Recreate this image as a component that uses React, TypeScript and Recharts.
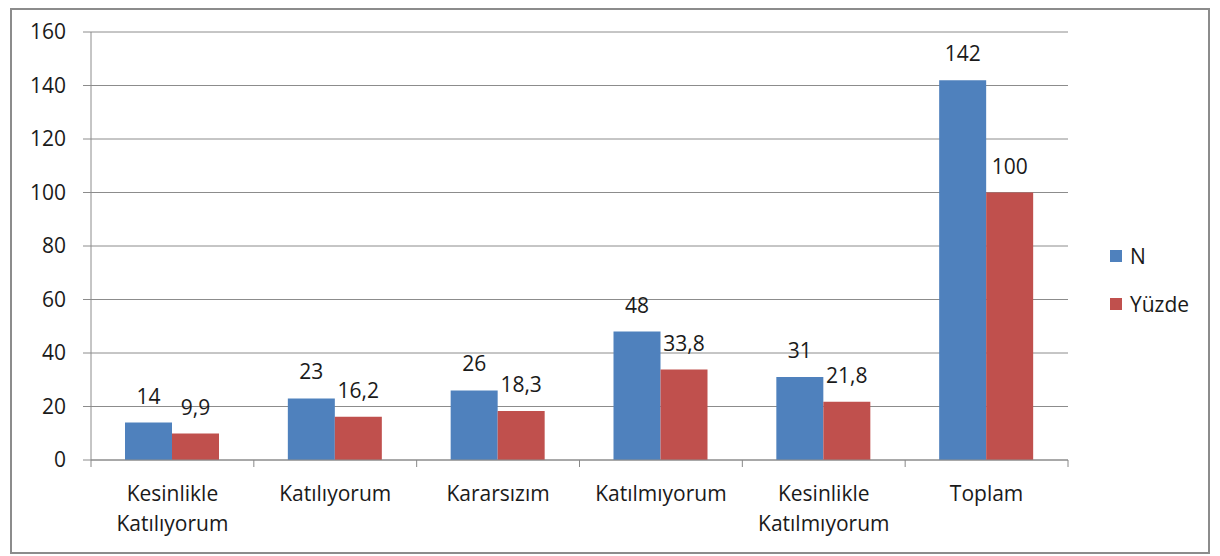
import React from "react"
import { BarChart, Bar, XAxis, YAxis, CartesianGrid, LabelList } from "recharts"

const categories = [
  "Kesinlikle Katılıyorum",
  "Katılıyorum",
  "Kararsızım",
  "Katılmıyorum",
  "Kesinlikle Katılmıyorum",
  "Toplam",
]
const nValues = [14, 23, 26, 48, 31, 142]
const yuzdeValues = [9.9, 16.2, 18.3, 33.8, 21.8, 100]
const yTicks = [0, 20, 40, 60, 80, 100, 120, 140, 160]

const BLUE = "#4f81bd"
const RED = "#c0504d"
const FONT = "'Open Sans', sans-serif"
const FS = 21
const TEXT = "#1a1a1a"

const data = categories.map((name, i) => ({ name, n: nValues[i], yuzde: yuzdeValues[i] }))

const CHART_W = 1196
const CHART_H = 542
const MARGIN = { top: 22, right: 140, left: 0, bottom: 0 }
const Y_WIDTH = 79
const BAND = (CHART_W - MARGIN.right - MARGIN.left - Y_WIDTH) / categories.length

const fmt = (v: any) => String(v).replace(".", ",")

function CategoryTick(props: any) {
  const { x, y, payload, index } = props
  const words = String(payload.value).split(" ")
  const left = x - BAND / 2
  return (
    <g>
      <line x1={left} y1={y - 8} x2={left} y2={y - 1} stroke="#888" />
      {index === categories.length - 1 && (
        <line x1={x + BAND / 2} y1={y - 8} x2={x + BAND / 2} y2={y - 1} stroke="#888" />
      )}
      <text x={x} y={y + 33} textAnchor="middle" fill={TEXT} fontSize={FS} fontFamily={FONT}>
        {words.map((w, i) => (
          <tspan key={i} x={x} dy={i === 0 ? 0 : 30}>
            {w}
          </tspan>
        ))}
      </text>
    </g>
  )
}

const legendItems = [
  { label: "N", color: BLUE },
  { label: "Yüzde", color: RED },
]

export default function App() {
  return (
    <div
      style={{
        position: "relative",
        marginLeft: 2,
        width: CHART_W,
        height: CHART_H,
        border: "2px solid #8c8c8c",
        background: "#fff",
      }}
    >
      <BarChart width={CHART_W} height={CHART_H} data={data} margin={MARGIN} barGap={0}>
        <CartesianGrid vertical={false} stroke="#8c8c8c" />
        <XAxis
          dataKey="name"
          interval={0}
          height={92}
          tickLine={false}
          axisLine={{ stroke: "#8c8c8c" }}
          tick={<CategoryTick />}
        />
        <YAxis
          width={Y_WIDTH}
          domain={[0, 160]}
          ticks={yTicks}
          interval={0}
          axisLine={{ stroke: "#8c8c8c" }}
          tickLine={{ stroke: "#8c8c8c" }}
          tickSize={8}
          tickMargin={17}
          tick={{ fill: TEXT, fontSize: FS, fontFamily: FONT }}
        />
        <Bar dataKey="n" name="N" fill={BLUE} barSize={47} isAnimationActive={false}>
          <LabelList dataKey="n" position="top" offset={19} fill={TEXT} fontSize={FS} fontFamily={FONT} formatter={fmt} />
        </Bar>
        <Bar dataKey="yuzde" name="Yüzde" fill={RED} barSize={47} isAnimationActive={false}>
          <LabelList dataKey="yuzde" position="top" offset={19} fill={TEXT} fontSize={FS} fontFamily={FONT} formatter={fmt} />
        </Bar>
      </BarChart>
      <div
        style={{
          position: "absolute",
          left: 1098,
          top: 222,
          fontFamily: FONT,
          fontSize: FS,
          color: TEXT,
        }}
      >
        {legendItems.map((it) => (
          <div key={it.label} style={{ display: "flex", alignItems: "center", height: 48 }}>
            <div style={{ width: 12, height: 12, background: it.color, marginRight: 8 }} />
            <span>{it.label}</span>
          </div>
        ))}
      </div>
    </div>
  )
}
